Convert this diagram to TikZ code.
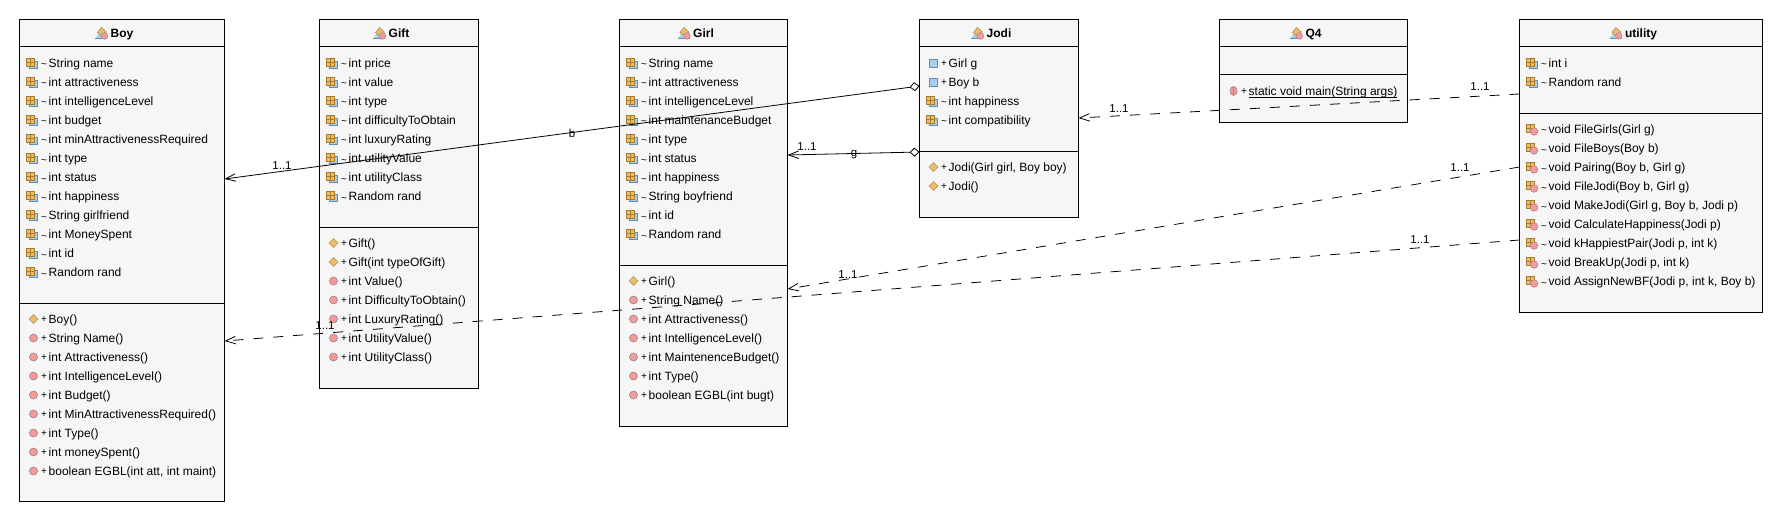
\documentclass[tikz,border=0pt]{standalone}
\usepackage{fontspec}
\setmainfont{Liberation Sans}
\usetikzlibrary{calc,arrows.meta}

\definecolor{boxgrey}{HTML}{F6F6F6}
\definecolor{gridorange}{HTML}{E8BE6A}
\definecolor{gridedge}{HTML}{A87B2C}
\definecolor{fieldblue}{HTML}{A9CDEB}
\definecolor{blueedge}{HTML}{5F8FB5}
\definecolor{dotred}{HTML}{F49A9A}
\definecolor{dotedge}{HTML}{A08080}

\tikzset{
    classbox/.style={draw=black,line width=1pt,fill=boxgrey,anchor=north west,inner sep=0pt,outer sep=0pt},
    classtitle/.style={font=\fontsize{12}{14}\selectfont\bfseries,inner sep=0pt,anchor=base},
    rowtext/.style={font=\fontsize{12}{14}\selectfont,inner sep=0pt,anchor=base west},
    rowmark/.style={font=\fontsize{10}{12}\selectfont,inner sep=0pt,anchor=base},
    linklabel/.style={font=\fontsize{11.5}{13}\selectfont,inner sep=0pt,anchor=base},
    assocline/.style={line width=0.8pt,black,-{Straight Barb[length=10pt,width=7.5pt,line width=0.8pt]}},
    aggrline/.style={assocline,{Diamond[open,length=10pt,width=9pt,line width=0.8pt]}-{Straight Barb[length=10pt,width=7.5pt,line width=0.8pt]}},
    depline/.style={assocline,dash pattern=on 10pt off 10pt},
    gridicon/.pic={
        \draw[blueedge,fill=fieldblue,line width=0.6pt] (-4,-1.5) rectangle (4,5);
        \draw[gridedge,fill=gridorange,line width=0.6pt] (-7.5,-5) rectangle (0.5,3);
        \draw[gridedge,line width=0.5pt] (-3.5,-5) -- (-3.5,3) (-7.5,-1) -- (0.5,-1);
    },
    fieldpkg/.pic={\pic {gridicon};},
    fieldpub/.pic={\draw[blueedge,fill=fieldblue,line width=0.6pt] (-4,-4) rectangle (4,4);},
    methodpub/.pic={\draw[dotedge,fill=dotred,line width=0.6pt] (0,0) circle (4);},
    methodstat/.pic={\draw[dotedge,fill=dotred,line width=0.6pt] (0,0) ellipse (3.6 and 4.5); \draw[dotedge,line width=0.5pt] (0,-4.5) -- (0,4.5);},
    ctorpub/.pic={\draw[gridedge!80,fill=gridorange,line width=0.6pt] (-4.5,0) -- (0,-4.5) -- (4.5,0) -- (0,4.5) -- cycle;},
    methodpkg/.pic={
        \draw[gridedge,fill=gridorange,line width=0.6pt] (-7.5,-5) rectangle (0.5,3);
        \draw[gridedge,line width=0.5pt] (-3.5,-5) -- (-3.5,3) (-7.5,-1) -- (0.5,-1);
        \draw[dotedge,fill=dotred,line width=0.5pt] (0.5,2.5) circle (3.8);
    },
    classicon/.pic={
        \fill[fieldblue] (-6,5) -- (-2,-1) -- (6,5) -- cycle;
        \draw[blueedge,line width=0.4pt] (-6,5) -- (6,5);
        \draw[gridedge,fill=gridorange,line width=0.4pt] (-4,-1) -- (0,-6) -- (5,-1.5) -- (1,3) -- cycle;
        \draw[dotedge,fill=dotred,line width=0.4pt] (3,2.5) circle (3.3);
    },
}

% box, y of first row from the top of the box, icon, mark, rows
\newcommand{\classrows}[5]{
    \foreach \rowname [count=\n from 0] in {#5} {
        \pic at ($(#1.north west)+(14,#2+19*\n)$) {#3};
        \node[rowmark] (#1Mark#2x\n) at ($(#1.north west)+(24.5,#2+19*\n+3.5)$) {#4};
        \node[rowtext] (#1Row#2x\n) at ($(#1.north west)+(29,#2+19*\n+4.5)$) {\rowname};
    }
}
% box, name, y of last divider from the top
\newcommand{\classhead}[3]{
    \node[classtitle] (#1Title) at ($(#1.north)+(0,18)$) {#2};
    \pic at ($(#1Title.base west)+(-9,-4)$) {classicon};
    \draw[line width=1pt] ($(#1.north west)+(0,27.5)$) -- ($(#1.north east)+(0,27.5)$);
    \draw[line width=1pt] ($(#1.north west)+(0,#3)$) -- ($(#1.north east)+(0,#3)$);
}
\newcommand{\pkgmark}{\raisebox{-1.5pt}{\textasciitilde}}

\begin{document}
\begin{tikzpicture}[x=1pt,y=-1pt]
    \useasboundingbox (0,0) rectangle (1768,508);

    \node[classbox,minimum width=205pt,minimum height=482pt] (boy) at (19.5,19.5) {};
    \node[classbox,minimum width=159pt,minimum height=369pt] (gift) at (319.5,19.5) {};
    \node[classbox,minimum width=168pt,minimum height=407pt] (girl) at (619.5,19.5) {};
    \node[classbox,minimum width=159pt,minimum height=198pt] (jodi) at (919.5,19.5) {};
    \node[classbox,minimum width=188pt,minimum height=103pt] (qfour) at (1219.5,19.5) {};
    \node[classbox,minimum width=243pt,minimum height=293pt] (utility) at (1519.5,19.5) {};

    \classhead{boy}{Boy}{283.5}
    \classhead{gift}{Gift}{207.5}
    \classhead{girl}{Girl}{245.5}
    \classhead{jodi}{Jodi}{131.5}
    \classhead{qfour}{Q4}{55.5}
    \classhead{utility}{utility}{94.5}

    \classrows{boy}{43.5}{fieldpkg}{\pkgmark}{String name,int attractiveness,int intelligenceLevel,int budget,int minAttractivenessRequired,int type,int status,int happiness,String girlfriend,int MoneySpent,int id,Random rand}
    \classrows{boy}{299.5}{ctorpub}{+}{Boy()}
    \classrows{boy}{318.5}{methodpub}{+}{String Name(),int Attractiveness(),int IntelligenceLevel(),int Budget(),int MinAttractivenessRequired(),int Type(),int moneySpent(),{boolean EGBL(int att, int maint)}}

    \classrows{gift}{43.5}{fieldpkg}{\pkgmark}{int price,int value,int type,int difficultyToObtain,int luxuryRating,int utilityValue,int utilityClass,Random rand}
    \classrows{gift}{223.5}{ctorpub}{+}{Gift(),Gift(int typeOfGift)}
    \classrows{gift}{261.5}{methodpub}{+}{int Value(),int DifficultyToObtain(),int LuxuryRating(),int UtilityValue(),int UtilityClass()}

    \classrows{girl}{43.5}{fieldpkg}{\pkgmark}{String name,int attractiveness,int intelligenceLevel,int maintenanceBudget,int type,int status,int happiness,String boyfriend,int id,Random rand}
    \classrows{girl}{261.5}{ctorpub}{+}{Girl()}
    \classrows{girl}{280.5}{methodpub}{+}{String Name(),int Attractiveness(),int IntelligenceLevel(),int MaintenenceBudget(),int Type(),boolean EGBL(int bugt)}

    \classrows{jodi}{43.5}{fieldpub}{+}{Girl g,Boy b}
    \classrows{jodi}{81.5}{fieldpkg}{\pkgmark}{int happiness,int compatibility}
    \classrows{jodi}{147.5}{ctorpub}{+}{{Jodi(Girl girl, Boy boy)},Jodi()}

    \classrows{qfour}{71.5}{methodstat}{+}{\underline{\smash{static void main(String args)}}}

    \classrows{utility}{43.5}{fieldpkg}{\pkgmark}{int i,Random rand}
    \classrows{utility}{109.5}{methodpkg}{\pkgmark}{void FileGirls(Girl g),void FileBoys(Boy b),{void Pairing(Boy b, Girl g)},{void FileJodi(Boy b, Girl g)},{void MakeJodi(Girl g, Boy b, Jodi p)},void CalculateHappiness(Jodi p),{void kHappiestPair(Jodi p, int k)},{void BreakUp(Jodi p, int k)},{void AssignNewBF(Jodi p, int k, Boy b)}}

    % connector ends
    \coordinate (jodiToBoy) at (jodi.west |- 0,86);
    \coordinate (boyFromJodi) at (boy.east |- 0,179);
    \coordinate (jodiToGirl) at (jodi.west |- 0,152);
    \coordinate (girlFromJodi) at (girl.east |- 0,155);
    \coordinate (utilToJodi) at (utility.west |- 0,94);
    \coordinate (jodiFromUtil) at (jodi.east |- 0,118);
    \coordinate (utilToGirl) at (utility.west |- 0,167);
    \coordinate (girlFromUtil) at (girl.east |- 0,289);
    \coordinate (utilToBoy) at (utility.west |- 0,240);
    \coordinate (boyFromUtil) at (boy.east |- 0,341);

    \draw[aggrline] (jodiToBoy) -- (boyFromJodi);
    \draw[aggrline] (jodiToGirl) -- (girlFromJodi);
    \draw[depline] (utilToJodi) -- (jodiFromUtil);
    \draw[depline] (utilToGirl) -- (girlFromUtil);
    \draw[depline] (utilToBoy) -- (boyFromUtil);

    \node[linklabel] (boyMult) at (282,169.5) {1..1};
    \node[linklabel] (linkB) at (572,137) {b};
    \node[linklabel] (girlMult) at (807,150) {1..1};
    \node[linklabel] (linkG) at (854,157) {g};
    \node[linklabel] (jodiMult) at (1119,113) {1..1};
    \node[linklabel] (utilJodiMult) at (1480,91) {1..1};
    \node[linklabel] (utilGirlMult) at (1460,171) {1..1};
    \node[linklabel] (girlUtilMult) at (848,278) {1..1};
    \node[linklabel] (utilBoyMult) at (1420,243) {1..1};
    \node[linklabel] (boyUtilMult) at (325,329) {1..1};
\end{tikzpicture}
\end{document}
